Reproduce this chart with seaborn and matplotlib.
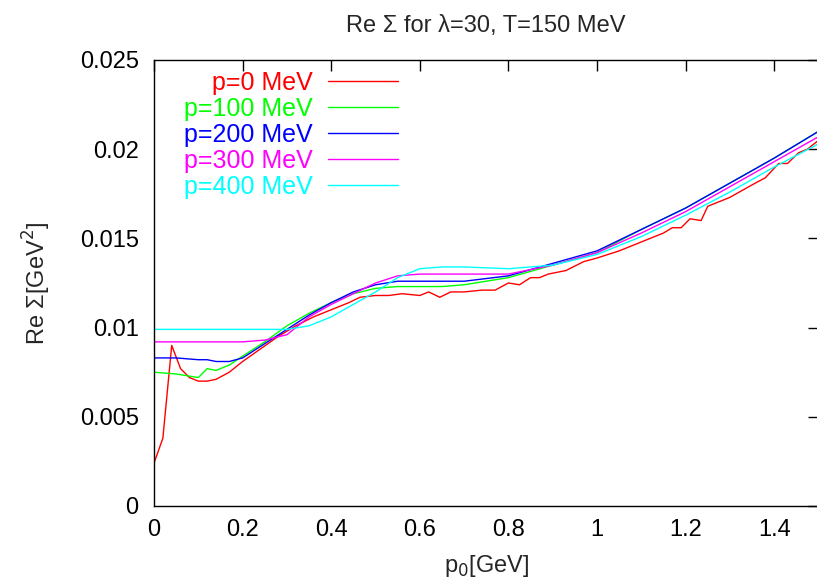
import numpy as np
import pandas as pd
import matplotlib
matplotlib.use("Agg")
import matplotlib.pyplot as plt
import seaborn as sns

# ---- data ----
x_red = [0, 0.02, 0.04, 0.06, 0.08, 0.1, 0.12, 0.14, 0.17, 0.2, 0.24, 0.28, 0.32, 0.36,
         0.4, 0.44, 0.465, 0.5, 0.53, 0.56, 0.6, 0.62, 0.645, 0.67, 0.7, 0.74, 0.77, 0.8,
         0.825, 0.85, 0.87, 0.89, 0.93, 0.97, 1.0, 1.05, 1.1, 1.15, 1.17, 1.19, 1.21,
         1.235, 1.25, 1.3, 1.35, 1.38, 1.41, 1.43, 1.455, 1.475, 1.5]
y_red = [0.0024, 0.0038, 0.0090, 0.0077, 0.0072, 0.0070, 0.0070, 0.0071, 0.0075, 0.0081,
         0.0088, 0.0095, 0.0101, 0.0106, 0.0110, 0.0114, 0.0117, 0.0118, 0.0118, 0.0119,
         0.0118, 0.0120, 0.0117, 0.0120, 0.0120, 0.0121, 0.0121, 0.0125, 0.0124, 0.0128,
         0.0128, 0.0130, 0.0132, 0.0137, 0.0139, 0.0143, 0.0148, 0.0153, 0.0156, 0.0156,
         0.0161, 0.0160, 0.0168, 0.0173, 0.0180, 0.0184, 0.0192, 0.0192, 0.0198, 0.0200,
         0.0205]

x_grid = [0, 0.05, 0.1, 0.12, 0.14, 0.17, 0.2, 0.25, 0.3, 0.35, 0.4, 0.45, 0.5, 0.55,
          0.6, 0.65, 0.7, 0.8, 0.9, 1.0, 1.1, 1.2, 1.3, 1.4, 1.5]
y_p100 = [0.0075, 0.0074, 0.0072, 0.0077, 0.0076, 0.0079, 0.0084, 0.0092, 0.0101, 0.0108,
          0.0114, 0.0119, 0.0122, 0.0123, 0.0123, 0.0123, 0.0124, 0.0128, 0.0135, 0.0142,
          0.0155, 0.0167, 0.0181, 0.0195, 0.0210]
y_p200 = [0.0083, 0.0083, 0.0082, 0.0082, 0.0081, 0.0081, 0.0083, 0.0091, 0.0099, 0.0107,
          0.0114, 0.0120, 0.0124, 0.0126, 0.0126, 0.0126, 0.0126, 0.0129, 0.0136, 0.0143,
          0.0155, 0.0167, 0.0181, 0.0195, 0.0210]
y_p300 = [0.0092, 0.0092, 0.0092, 0.0092, 0.0092, 0.0092, 0.0092, 0.0093, 0.0096, 0.0106,
          0.0113, 0.0119, 0.0125, 0.0129, 0.0130, 0.0130, 0.0130, 0.0130, 0.0135, 0.0142,
          0.0153, 0.0165, 0.0179, 0.0193, 0.0207]
y_p400 = [0.0099, 0.0099, 0.0099, 0.0099, 0.0099, 0.0099, 0.0099, 0.0099, 0.0099, 0.0101,
          0.0106, 0.0113, 0.0120, 0.0128, 0.0133, 0.0134, 0.0134, 0.0133, 0.0135, 0.0141,
          0.0151, 0.0163, 0.0176, 0.0190, 0.0203]

labels = ["p=0 MeV", "p=100 MeV", "p=200 MeV", "p=300 MeV", "p=400 MeV"]
colors = ["#ff0000", "#00ff00", "#0000ff", "#ff00ff", "#00ffff"]
x_ticks = [0, 0.2, 0.4, 0.6, 0.8, 1.0, 1.2, 1.4]
y_ticks = [0, 0.005, 0.01, 0.015, 0.02, 0.025]

frames = [pd.DataFrame({"p0": x_red, "val": y_red, "series": labels[0]})]
for lab, ys in zip(labels[1:], [y_p100, y_p200, y_p300, y_p400]):
    frames.append(pd.DataFrame({"p0": x_grid, "val": ys, "series": lab}))
df = pd.concat(frames, ignore_index=True)

sns.set_theme(style="white")
plt.rcParams["font.family"] = ["Liberation Sans", "DejaVu Sans"]

fig = plt.figure(figsize=(8.17, 5.85), dpi=100)
ax = fig.add_axes([154 / 817, 79 / 585, (818.5 - 154) / 817, (506 - 60) / 585])

sns.lineplot(data=df, x="p0", y="val", hue="series", hue_order=labels,
             palette=colors, estimator=None, linewidth=1.0, ax=ax)

ax.set_xlim(0, 1.5)
ax.set_ylim(0, 0.025)
ax.set_xticks(x_ticks)
ax.set_xticklabels(["%g" % v for v in x_ticks])
ax.set_yticks(y_ticks)
ax.set_yticklabels(["%g" % v for v in y_ticks])
ax.tick_params(direction="in", top=True, right=True, length=8, width=1,
               labelsize=17, colors="black")
ax.tick_params(axis="y", pad=11)
ax.tick_params(axis="x", pad=9)
for s in ax.spines.values():
    s.set_color("black")
    s.set_linewidth(1.0)

ax.set_xlabel("p$_0$[GeV]", fontsize=17, labelpad=9)
ax.set_ylabel("Re \u03a3[GeV$^2$]", fontsize=17, labelpad=19)
ax.set_title("Re \u03a3 for \u03bb=30, T=150 MeV", fontsize=17, pad=20)

leg = ax.legend(loc="upper right", bbox_to_anchor=(0.3665, 0.975), frameon=False,
                markerfirst=False, handlelength=2.8, handletextpad=0.6,
                labelspacing=0.08, fontsize=18, labelcolor="linecolor",
                borderaxespad=0.0, borderpad=0.0)
for col in leg._legend_handle_box.get_children():
    col.align = "right"

fig.savefig("out.png", dpi=100)
